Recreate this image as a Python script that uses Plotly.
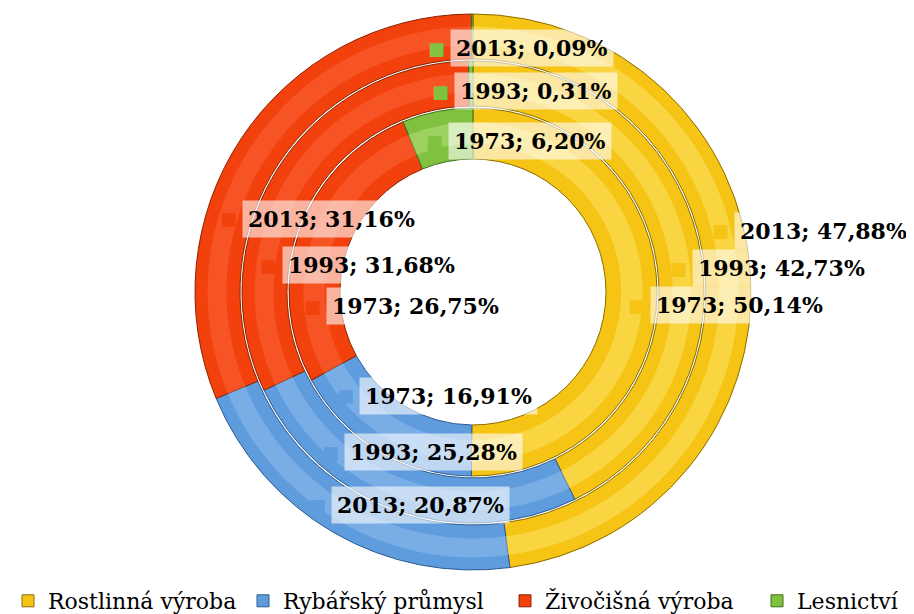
import plotly.graph_objects as go

# Data
categories = ['Rostlinná výroba', 'Rybářský průmysl', 'Živočišná výroba', 'Lesnictví']
years = ['2013', '1993', '1973']
values_2013 = [47.88, 20.87, 31.16, 0.09]
values_1993 = [42.73, 25.28, 31.68, 0.31]
values_1973 = [50.14, 16.91, 26.75, 6.20]
values_by_year = [values_2013, values_1993, values_1973]

# Styles
colors = ['#F5C415', '#5F9CDD', '#F3410D', '#80C13F']
edge_colors = ['#8A6C00', '#2C5A90', '#8A2200', '#3E6E18']
light_colors = ['rgba(255,236,120,0.45)', 'rgba(170,205,245,0.35)', 'rgba(255,130,90,0.3)', 'rgba(200,235,150,0.4)']

W, H = 914, 614
PAGE = 8  # default body margin of the html page; positions below are page pixels
CX, CY = 473, 292
# outer / inner radius (px) of each ring: 2013 outside, 1973 inside
ring_radii = [(278, 233), (231, 186), (184, 133)]

# label placement (category index, year index, marker x px, y px)
label_spots = [
    (3, 0, 436, 48), (3, 1, 440, 91), (3, 2, 434, 141),
    (0, 0, 720, 231), (0, 1, 678, 268), (0, 2, 636, 305),
    (2, 0, 228, 219), (2, 1, 268, 265), (2, 2, 312, 306),
    (1, 2, 345, 396), (1, 1, 330, 452), (1, 0, 317, 505),
]
# legend marker x positions (page px)
legend_x = [27, 262, 524, 776]


def px_x(x):
    return (x - PAGE) / W


def px_y(y):
    return 1 - (y - PAGE) / H


def domain(r):
    return dict(x=[px_x(CX - r), px_x(CX + r)], y=[px_y(CY + r), px_y(CY - r)])


fig = go.Figure()
for k, (vals, (r_out, r_in)) in enumerate(zip(values_by_year, ring_radii)):
    fig.add_trace(go.Pie(
        labels=categories, values=vals, name=years[k],
        domain=domain(r_out), hole=r_in / r_out,
        sort=False, direction='clockwise', rotation=0,
        marker=dict(colors=colors, line=dict(color=edge_colors, width=1)),
        textinfo='none', showlegend=False,
    ))
    # lighter band in the middle of each ring for a bevelled look
    t = r_out - r_in
    h_out, h_in = r_out - 0.28 * t, r_in + 0.3 * t
    fig.add_trace(go.Pie(
        labels=categories, values=vals, name=years[k],
        domain=domain(h_out), hole=h_in / h_out,
        sort=False, direction='clockwise', rotation=0,
        marker=dict(colors=light_colors, line=dict(width=0)),
        textinfo='none', showlegend=False, hoverinfo='skip',
    ))

# legend entries, one legend per category so they can be spread like the original
legend_font = dict(family='DejaVu Serif', size=22, color='black')
legends = {}
for i, cat in enumerate(categories):
    key = 'legend' if i == 0 else f'legend{i + 1}'
    fig.add_trace(go.Scatter(
        x=[None], y=[None], mode='markers', name=cat, legend=key,
        marker=dict(symbol='square', size=12, color=colors[i], line=dict(color=edge_colors[i], width=1)),
    ))
    legends[key] = dict(
        orientation='h', x=max(px_x(legend_x[i] - 19), 0), y=0,
        xanchor='left', yanchor='bottom', font=legend_font, bgcolor='rgba(0,0,0,0)',
    )

annotations = []
for ci, yi, mx, my in label_spots:
    v = values_by_year[yi][ci]
    txt = f"{years[yi]}; {v:.2f}%".replace('.', ',')
    # small key square, then the value in a translucent box
    annotations.append(dict(
        x=px_x(mx), y=px_y(my), xref='paper', yref='paper',
        text='■', showarrow=False, xanchor='center', yanchor='middle',
        font=dict(family='DejaVu Sans', size=18, color=colors[ci]),
    ))
    annotations.append(dict(
        x=px_x(mx + 14), y=px_y(my), xref='paper', yref='paper',
        text=txt, showarrow=False, xanchor='left', yanchor='middle',
        font=dict(family='DejaVu Serif', size=22, color='black', weight='bold'),
        bgcolor='rgba(255,255,255,0.6)', borderpad=5,
    ))

fig.update_layout(
    width=W, height=H,
    margin=dict(l=0, r=0, t=0, b=0),
    paper_bgcolor='white', plot_bgcolor='white',
    xaxis=dict(visible=False), yaxis=dict(visible=False),
    annotations=annotations,
    **legends,
)

fig.write_html("out.html")
